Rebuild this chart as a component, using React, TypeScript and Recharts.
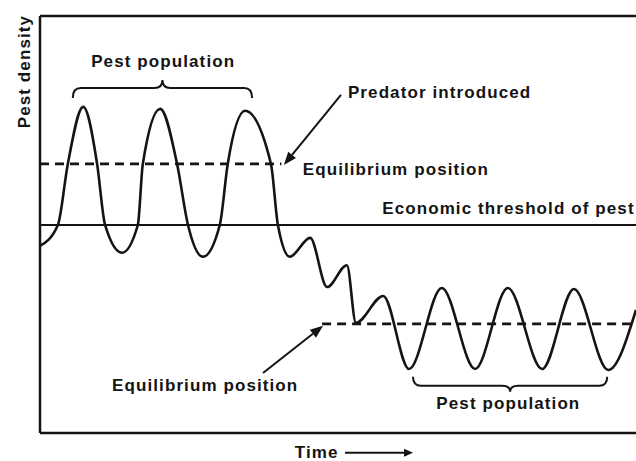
import React from 'react';
import { ComposedChart, Line, XAxis, YAxis, ReferenceLine, ReferenceDot } from 'recharts';

// time runs 0..120, pest density 0..84 (arbitrary units)
const time = [0, 3.6, 5.6, 8.7, 11.5, 13.1, 16.5, 19.7, 20.7, 24.2, 27.6, 29.8, 32.8, 36.2, 37.8, 41.3, 46.5, 47.9, 50.3,
    54.4, 57.8, 61.8, 63.6, 69.1, 74.3, 80.9, 87.6, 94.2, 101.1, 107.5, 114.4, 120];
const density = [37.7, 41.9, 54.2, 65.7, 54.2, 41.9, 36.3, 41.9, 54.2, 65.3, 54.2, 41.9, 35.5, 41.9, 54.2, 64.9, 54.2, 41.9, 35.5,
    39.3, 29.4, 33.8, 22.2, 27.6, 12.9, 29.2, 12.9, 29.2, 12.9, 29.0, 12.7, 24.8];

const threshold = 41.9;
const equilibriumBefore = 54.2;
const equilibriumAfter = 22.0;
const predatorTime = 48.6;

const labels = {
    yAxis: 'Pest density',
    xAxis: 'Time',
    pestTop: 'Pest population',
    pestBottom: 'Pest population',
    predator: 'Predator introduced',
    eqTop: 'Equilibrium position',
    eqBottom: 'Equilibrium position',
    threshold: 'Economic threshold of pest',
};

const curve = time.map((t, i) => ({ t, d: density[i] }));

const INK = '#141414';
const FONT: React.CSSProperties = {
    fontFamily: "'Liberation Sans', Arial, sans-serif",
    fontSize: 17,
    fontWeight: 700,
    letterSpacing: 1.1,
    fill: INK,
};

const textShape = (value: string, anchor: 'start' | 'middle' = 'start', rotate = false) => (p: any) => (
    <text
        x={p.cx}
        y={p.cy}
        textAnchor={anchor}
        transform={rotate ? `rotate(-90 ${p.cx} ${p.cy})` : undefined}
        style={FONT}
    >
        {value}
    </text>
);

const arrowShape = (head: number, half: number) => (p: any) => {
    const { x1, y1, x2, y2 } = p;
    const a = Math.atan2(y2 - y1, x2 - x1);
    const bx = x2 - head * Math.cos(a);
    const by = y2 - head * Math.sin(a);
    const nx = -Math.sin(a) * half;
    const ny = Math.cos(a) * half;
    return (
        <g>
            <line x1={x1} y1={y1} x2={bx} y2={by} stroke={INK} strokeWidth={2} />
            <polygon points={`${x2},${y2} ${bx + nx},${by + ny} ${bx - nx},${by - ny}`} fill={INK} />
        </g>
    );
};

// dir -1: tip points up, ends curl down; dir 1: the other way round
const braceShape = (dir: number, end: number, tip: number) => (p: any) => {
    const xa = Math.min(p.x1, p.x2);
    const xb = Math.max(p.x1, p.x2);
    const y = p.y1;
    const xm = (xa + xb) / 2;
    const r = 8;
    const d = `M${xa},${y - dir * end} Q${xa},${y} ${xa + r},${y} L${xm - r},${y} Q${xm},${y} ${xm},${y + dir * tip} ` +
        `Q${xm},${y} ${xm + r},${y} L${xb - r},${y} Q${xb},${y} ${xb},${y - dir * end}`;
    return <path d={d} fill="none" stroke={INK} strokeWidth={2} />;
};

const App = () => {
    return (
        <div style={{ position: 'absolute', left: 0, top: 0, background: '#fff' }}>
            <ComposedChart width={636} height={461} data={curve} margin={{ top: 16, right: 0, bottom: 0, left: 0 }}>
                <XAxis dataKey="t" type="number" domain={[0, 120]} tick={false} tickLine={false} height={28}
                       axisLine={{ stroke: INK, strokeWidth: 2.5 }} />
                <YAxis type="number" domain={[0, 84]} tick={false} tickLine={false} width={40}
                       axisLine={{ stroke: INK, strokeWidth: 2.5 }} />

                <ReferenceLine y={84} stroke={INK} strokeWidth={2.5} />
                <ReferenceLine y={threshold} stroke={INK} strokeWidth={2} />
                <ReferenceLine segment={[{ x: 0, y: equilibriumBefore }, { x: predatorTime, y: equilibriumBefore }]}
                               stroke={INK} strokeWidth={2.8} strokeDasharray="9 6" />
                <ReferenceLine segment={[{ x: 56.8, y: equilibriumAfter }, { x: 120, y: equilibriumAfter }]}
                               stroke={INK} strokeWidth={2.8} strokeDasharray="9 6" />

                <Line dataKey="d" type="monotone" stroke={INK} strokeWidth={2.6} dot={false} isAnimationActive={false} />

                {/* braces */}
                <ReferenceLine segment={[{ x: 6.6, y: 69.5 }, { x: 42.7, y: 69.5 }]} ifOverflow="visible"
                               shape={braceShape(-1, 10, 8)} />
                <ReferenceLine segment={[{ x: 75.1, y: 9.5 }, { x: 114.2, y: 9.5 }]} ifOverflow="visible"
                               shape={braceShape(1, 9, 6)} />

                {/* arrows */}
                <ReferenceLine segment={[{ x: 60.6, y: 68.1 }, { x: 49.1, y: 54.0 }]} ifOverflow="visible"
                               shape={arrowShape(13, 5)} />
                <ReferenceLine segment={[{ x: 44.9, y: 12.1 }, { x: 57.0, y: 21.6 }]} ifOverflow="visible"
                               shape={arrowShape(13, 5)} />
                <ReferenceLine segment={[{ x: 61.4, y: -4.0 }, { x: 75.1, y: -4.0 }]} ifOverflow="visible"
                               shape={arrowShape(9, 4)} />

                {/* texts */}
                <ReferenceDot x={-2.0} y={72.8} r={0} ifOverflow="visible" shape={textShape(labels.yAxis, 'middle', true)} />
                <ReferenceDot x={51.3} y={-5.0} r={0} ifOverflow="visible" shape={textShape(labels.xAxis)} />
                <ReferenceDot x={24.8} y={73.7} r={0} ifOverflow="visible" shape={textShape(labels.pestTop, 'middle')} />
                <ReferenceDot x={62.0} y={67.5} r={0} ifOverflow="visible" shape={textShape(labels.predator)} />
                <ReferenceDot x={52.9} y={52.0} r={0} ifOverflow="visible" shape={textShape(labels.eqTop)} />
                <ReferenceDot x={68.9} y={44.1} r={0} ifOverflow="visible" shape={textShape(labels.threshold)} />
                <ReferenceDot x={14.5} y={8.5} r={0} ifOverflow="visible" shape={textShape(labels.eqBottom)} />
                <ReferenceDot x={94.3} y={4.8} r={0} ifOverflow="visible" shape={textShape(labels.pestBottom, 'middle')} />
            </ComposedChart>
        </div>
    );
};

export default App;
